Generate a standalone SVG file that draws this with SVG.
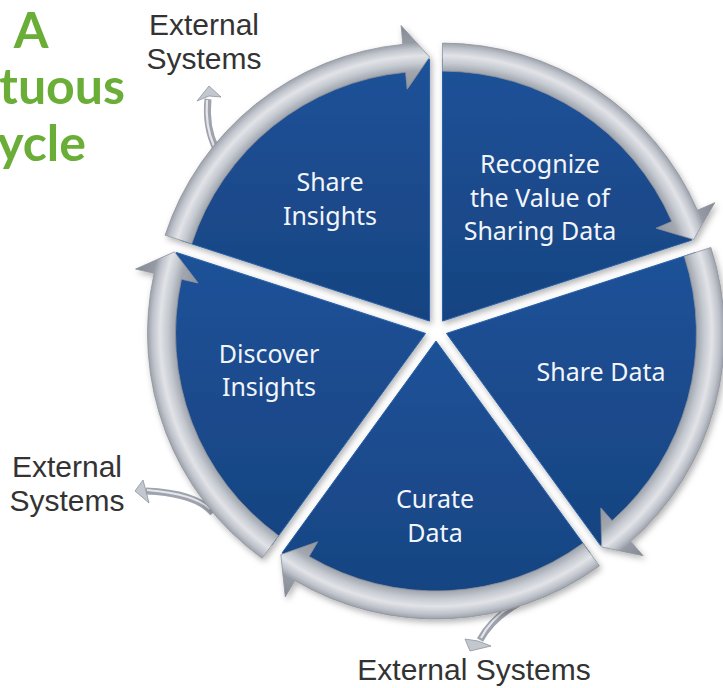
<svg xmlns="http://www.w3.org/2000/svg" width="723" height="688" viewBox="0 0 723 688">
<defs>
<style>
.wedge{stroke:#2760a8;stroke-width:1}
.lbl{font-family:"Noto Sans","Open Sans",sans-serif;font-size:25px;fill:#f2f5fa;text-anchor:middle}
.ext{font-family:"Liberation Sans",Arial,sans-serif;font-size:30px;fill:#333333;text-anchor:middle}
.title{font-family:Lato,"Noto Sans",sans-serif;font-weight:bold;font-size:50px;fill:#6aae38}
.ring{stroke:#8e939d;stroke-width:0.8}
.shaft{fill:none;stroke:#9ea3ad;stroke-width:7;stroke-linecap:butt}
.shaftHi{fill:none;stroke:#e4e6ea;stroke-width:2.2}
.head{fill:#c3c7ce;stroke:#8e939d;stroke-width:0.8}
</style>
<linearGradient id="blue" x1="0" y1="0" x2="0" y2="1">
<stop offset="0" stop-color="#1f5298"/>
<stop offset="1" stop-color="#174381"/>
</linearGradient>
<filter id="sh" x="-10%" y="-10%" width="120%" height="120%">
<feDropShadow dx="2" dy="3" stdDeviation="3" flood-color="#000" flood-opacity="0.3"/>
</filter>
<radialGradient id="g1" gradientUnits="userSpaceOnUse" cx="429.53" cy="321.10" r="300">
<stop offset="0.77" stop-color="#8d929c"/><stop offset="0.835" stop-color="#a2a7b0"/><stop offset="0.86" stop-color="#c6cad1"/><stop offset="0.885" stop-color="#e1e3e7"/><stop offset="0.91" stop-color="#bec2ca"/><stop offset="0.93" stop-color="#959aa4"/><stop offset="1" stop-color="#80858f"/>
</radialGradient>
<radialGradient id="g2" gradientUnits="userSpaceOnUse" cx="442.47" cy="321.10" r="300">
<stop offset="0.77" stop-color="#8d929c"/><stop offset="0.835" stop-color="#a2a7b0"/><stop offset="0.86" stop-color="#c6cad1"/><stop offset="0.885" stop-color="#e1e3e7"/><stop offset="0.91" stop-color="#bec2ca"/><stop offset="0.93" stop-color="#959aa4"/><stop offset="1" stop-color="#80858f"/>
</radialGradient>
<radialGradient id="g3" gradientUnits="userSpaceOnUse" cx="446.46" cy="333.40" r="300">
<stop offset="0.77" stop-color="#8d929c"/><stop offset="0.835" stop-color="#a2a7b0"/><stop offset="0.86" stop-color="#c6cad1"/><stop offset="0.885" stop-color="#e1e3e7"/><stop offset="0.91" stop-color="#bec2ca"/><stop offset="0.93" stop-color="#959aa4"/><stop offset="1" stop-color="#80858f"/>
</radialGradient>
<radialGradient id="g4" gradientUnits="userSpaceOnUse" cx="436" cy="341" r="300">
<stop offset="0.77" stop-color="#8d929c"/><stop offset="0.835" stop-color="#a2a7b0"/><stop offset="0.86" stop-color="#c6cad1"/><stop offset="0.885" stop-color="#e1e3e7"/><stop offset="0.91" stop-color="#bec2ca"/><stop offset="0.93" stop-color="#959aa4"/><stop offset="1" stop-color="#80858f"/>
</radialGradient>
<radialGradient id="g5" gradientUnits="userSpaceOnUse" cx="425.54" cy="333.40" r="300">
<stop offset="0.77" stop-color="#8d929c"/><stop offset="0.835" stop-color="#a2a7b0"/><stop offset="0.86" stop-color="#c6cad1"/><stop offset="0.885" stop-color="#e1e3e7"/><stop offset="0.91" stop-color="#bec2ca"/><stop offset="0.93" stop-color="#959aa4"/><stop offset="1" stop-color="#80858f"/>
</radialGradient>
</defs>
<rect width="723" height="688" fill="#ffffff"/>

<g id="title">
<text class="title" x="31" y="48" text-anchor="middle">A</text>
<text class="title" x="125" y="104" text-anchor="end">Virtuous</text>
<text class="title" x="86" y="161" text-anchor="end">Cycle</text>
</g>

<g id="connectors">
<g id="ext-top">
<path class="shaft" d="M216 149 Q205 126 208 99"/>
<path class="shaftHi" d="M214 146 Q205 126 207 100"/>
<polygon class="head" points="209,86 221,97 209,96 197,101"/>
</g>
<g id="ext-left">
<path class="shaft" d="M213 513 Q196 493 146 491"/>
<path class="shaftHi" d="M210 509 Q195 494 147 490"/>
<polygon class="head" points="135,491 143,480 146,491 149,503"/>
</g>
<g id="ext-bottom">
<path class="shaft" d="M519 603 Q492 618 480 640"/>
<path class="shaftHi" d="M516 603 Q492 617 481 638"/>
<polygon class="head" points="470,651 465,639 478,641 491,646"/>
</g>
</g>

<g id="node-share-insights" filter="url(#sh)">
<path class="wedge" fill="url(#blue)" d="M429.53 321.10 L180.35 240.14 A262 262 0 0 1 429.53 59.10 Z"/>
<path class="ring" fill="url(#g1)" d="M165.14 235.19 A278 278 0 0 1 402.88 44.38 L401.06 25.47 L429.53 57.10 L407.20 89.17 L405.57 72.25 A250 250 0 0 0 191.76 243.84 Z"/>
</g>
<g id="node-recognize" filter="url(#sh)">
<path class="wedge" fill="url(#blue)" d="M442.47 321.10 L442.47 59.10 A262 262 0 0 1 691.65 240.14 Z"/>
<path class="ring" fill="url(#g2)" d="M442.47 43.10 A278 278 0 0 1 697.41 210.25 L714.84 202.67 L693.55 239.52 L656.14 228.19 L671.74 221.41 A250 250 0 0 0 442.47 71.10 Z"/>
</g>
<g id="node-share-data" filter="url(#sh)">
<path class="wedge" fill="url(#blue)" d="M446.46 333.40 L695.64 252.44 A262 262 0 0 1 600.46 545.36 Z"/>
<path class="ring" fill="url(#g3)" d="M710.85 247.49 A278 278 0 0 1 630.67 541.61 L643.26 555.84 L601.64 546.98 L600.85 507.91 L612.12 520.64 A250 250 0 0 0 684.23 256.14 Z"/>
</g>
<g id="node-curate" filter="url(#sh)">
<path class="wedge" fill="url(#blue)" d="M436 341 L590.00 552.96 A262 262 0 0 1 282.00 552.96 Z"/>
<path class="ring" fill="url(#g4)" d="M599.41 565.91 A278 278 0 0 1 294.90 580.53 L285.26 596.90 L280.82 554.58 L317.74 541.76 L309.11 556.41 A250 250 0 0 0 582.95 543.26 Z"/>
</g>
<g id="node-discover" filter="url(#sh)">
<path class="wedge" fill="url(#blue)" d="M425.54 333.40 L271.54 545.36 A262 262 0 0 1 176.36 252.44 Z"/>
<path class="ring" fill="url(#g5)" d="M262.13 558.31 A278 278 0 0 1 154.13 273.23 L135.58 269.12 L174.46 251.82 L198.06 282.97 L181.46 279.29 A250 250 0 0 0 278.59 535.66 Z"/>
</g>

<g id="labels">
<text class="lbl" x="330" y="191">Share</text>
<text class="lbl" x="330" y="225">Insights</text>
<text class="lbl" x="540" y="173">Recognize</text>
<text class="lbl" x="540" y="207">the Value of</text>
<text class="lbl" x="540" y="240">Sharing Data</text>
<text class="lbl" x="601" y="381">Share Data</text>
<text class="lbl" x="435" y="508">Curate</text>
<text class="lbl" x="435" y="542">Data</text>
<text class="lbl" x="269" y="363">Discover</text>
<text class="lbl" x="269" y="396">Insights</text>
</g>

<g id="external-labels">
<text class="ext" x="204" y="35">External</text>
<text class="ext" x="204" y="69">Systems</text>
<text class="ext" x="67" y="477">External</text>
<text class="ext" x="67" y="511">Systems</text>
<text class="ext" x="474" y="680">External Systems</text>
</g>
</svg>
